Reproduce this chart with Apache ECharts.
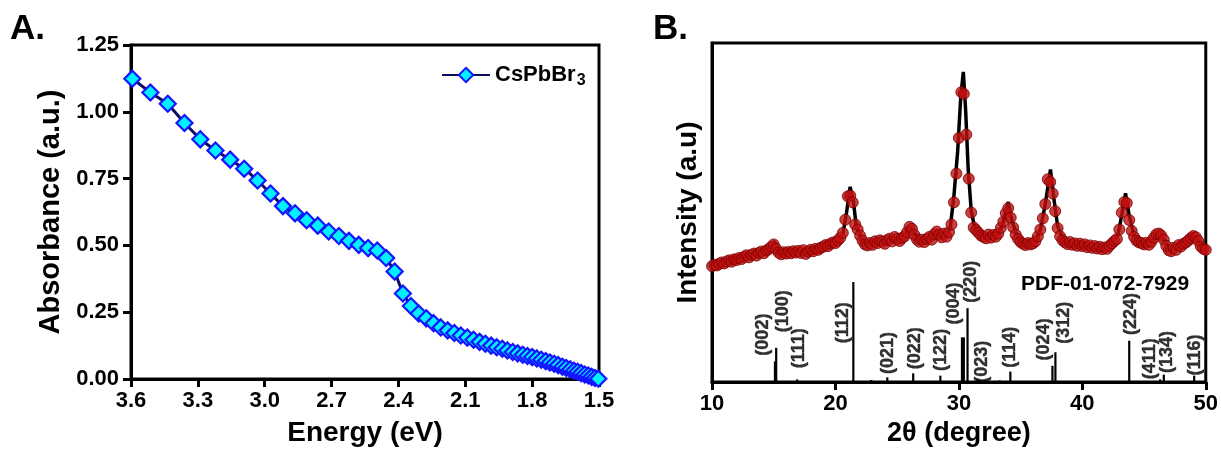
<!DOCTYPE html>
<html>
<head>
<meta charset="utf-8">
<script src="https://cdn.jsdelivr.net/npm/echarts@6/dist/echarts.min.js"></script>
<style>
  html, body { margin: 0; padding: 0; background: #fff; }
  #chart { width: 1221px; height: 452px; }
</style>
</head>
<body>
<div id="chart"></div>
<script>
// ---- Panel A: UV-vis absorbance of CsPbBr3 versus photon energy ----
const absEnergy = [
  3.594, 3.513, 3.435, 3.360, 3.289, 3.221, 3.155, 3.092, 3.032, 2.974,
  2.918, 2.864, 2.812, 2.762, 2.713, 2.667, 2.622, 2.578, 2.536, 2.495,
  2.455, 2.417, 2.380, 2.344, 2.309, 2.275, 2.242, 2.210, 2.179, 2.149,
  2.120, 2.091, 2.063, 2.036, 2.010, 1.984, 1.959, 1.934, 1.911, 1.887,
  1.865, 1.842, 1.821, 1.800, 1.779, 1.759, 1.739, 1.720, 1.701, 1.683,
  1.664, 1.647, 1.629, 1.612, 1.596, 1.580, 1.564, 1.548, 1.533, 1.518,
  1.503
];
const absValue = [
  1.124, 1.072, 1.030, 0.958, 0.897, 0.855, 0.821, 0.787, 0.743, 0.694,
  0.647, 0.620, 0.594, 0.574, 0.552, 0.535, 0.517, 0.502, 0.490, 0.481,
  0.453, 0.402, 0.320, 0.273, 0.245, 0.227, 0.209, 0.193, 0.182, 0.172,
  0.163, 0.155, 0.147, 0.139, 0.132, 0.125, 0.119, 0.113, 0.107, 0.101,
  0.096, 0.091, 0.086, 0.082, 0.077, 0.072, 0.067, 0.062, 0.057, 0.052,
  0.046, 0.041, 0.036, 0.031, 0.027, 0.022, 0.017, 0.013, 0.008, 0.004,
  0.001
];

// ---- Panel B: XRD pattern (scan 10-50 deg, 0.2 deg step) ----
const scanStart = 10;
const scanStep = 0.2;
const xrdObserved = [
  34.2, 34.6, 34.4, 34.9, 35.3, 35.0, 35.6, 35.9, 35.5, 36.2,
  36.0, 36.6, 36.3, 37.0, 37.4, 36.8, 37.5, 37.9, 37.3, 38.1,
  38.5, 38.0, 38.8, 39.2, 39.9, 40.6, 39.3, 38.2, 37.7, 38.3,
  37.9, 38.4, 38.0, 38.6, 38.2, 38.7, 38.1, 38.9, 37.8, 38.5,
  39.0, 38.6, 39.3, 39.0, 39.6, 39.9, 40.4, 40.1, 40.8, 41.2,
  41.0, 41.8, 42.6, 44.0, 47.9, 54.8, 55.0, 53.0, 46.5, 45.0,
  43.2, 41.7, 40.6, 40.3, 41.0, 40.5, 41.5, 41.0, 41.8, 41.4,
  40.8, 41.9, 42.3, 41.5, 42.8, 42.2, 41.6, 42.5, 43.0, 44.2,
  45.8, 45.2, 43.4, 42.1, 41.4, 42.0, 41.3, 42.2, 42.8, 42.0,
  43.6, 44.4, 43.5, 42.7, 43.8, 42.9, 44.2, 46.5, 53.0, 61.5,
  72.0, 85.5, 85.0, 73.0, 60.0, 50.0, 45.6, 44.8, 44.0, 43.2,
  42.8, 42.4, 43.5, 42.6, 43.4, 42.9, 43.8, 45.5, 47.3, 49.8,
  51.3, 48.5, 45.6, 43.5, 42.2, 41.3, 40.8, 40.4, 41.0, 40.6,
  40.9, 41.5, 43.0, 45.0, 48.3, 52.5, 59.8, 59.0, 55.6, 50.4,
  45.4, 43.0, 41.8, 41.2, 40.7, 41.3, 40.5, 40.9, 40.2, 40.8,
  40.1, 40.6, 39.8, 40.3, 39.6, 40.1, 39.4, 39.9, 39.2, 39.7,
  39.3, 40.2, 40.9, 41.6, 42.2, 45.0, 50.0, 53.1, 52.8, 47.8,
  44.6, 42.8, 41.7, 41.2, 41.0, 40.6, 41.1, 40.5, 41.4, 42.6,
  43.6, 43.8, 43.2, 42.0, 40.2, 38.9, 38.6, 39.6, 39.0, 40.4,
  40.0, 40.8, 41.2, 41.8, 42.5, 43.1, 42.7, 41.6, 40.0, 39.3,
  39.0
];

// Refined profile (solid black curve)
const fitTheta = [
  10, 11, 12, 13, 14, 14.8, 15.05, 15.3, 16, 17, 18, 19, 20, 20.6, 20.9,
  21.19, 21.45, 21.7, 22.2, 23, 24, 25, 25.8, 26.1, 26.5, 27.2, 28.2, 29.0,
  29.3, 29.6, 29.9, 30.15, 30.36, 30.55, 30.75, 31.0, 31.3, 32.0, 33.0, 33.5,
  34.0, 34.3, 34.8, 35.5, 36.2, 36.6, 37.0, 37.42, 37.7, 38.0, 38.5, 39.5,
  40.5, 41.5, 42.3, 42.9, 43.2, 43.5, 43.8, 44.2, 45.0, 45.7, 46.2, 46.7,
  47.1, 47.6, 48.4, 49.0, 49.5, 50
];
const fitIntensity = [
  34.4, 35.4, 36.2, 37.2, 38.3, 39.8, 41.6, 38.8, 38.1, 38.4, 38.9, 39.9, 41.0, 43.6, 50.0,
  57.6, 53.5, 45.5, 41.7, 40.8, 41.2, 42.2, 44.0, 45.6, 43.2, 41.6, 44.2, 43.2,
  45.5, 55.0, 68.0, 84.0, 91.5, 80.0, 63.0, 50.5, 45.2, 42.8, 43.0, 46.0,
  53.1, 47.5, 42.3, 40.5, 41.3, 45.0, 52.5, 62.7, 54.0, 46.0, 41.8, 40.6,
  40.2, 39.6, 40.4, 43.5, 49.5, 55.7, 49.0, 43.2, 40.9, 41.8, 43.6, 41.6,
  38.9, 39.5, 41.2, 43.1, 41.0, 39.2
];

// Reference pattern PDF-01-072-7929 (stick positions and relative heights)
const refTheta = [15.1, 15.2, 16.9, 21.45, 22.9, 24.2, 26.3, 28.5, 30.25, 30.4, 30.7, 31.5, 33.3, 34.17, 37.58, 37.82, 43.8, 46.3, 46.6, 49.06];
const refIntensity = [6.1, 10.1, 0.8, 29.5, 0.6, 1.4, 2.6, 1.9, 13.2, 13.2, 21.8, 0.8, 0.5, 3.1, 4.8, 8.8, 12.2, 0.8, 2.2, 1.9];

// Miller-index labels and their anchor points (2θ, intensity units)
const hklLabels = ['(002)', '(100)', '(111)', '(112)', '(021)', '(022)', '(122)', '(004)', '(220)', '(023)', '(114)', '(024)', '(312)', '(224)', '(411)', '(134)', '(116)'];
const hklTheta  = [14.13, 15.74, 17.08, 20.62, 24.27, 26.42, 28.57, 29.6, 30.95, 31.84, 34.17, 36.88, 38.55, 43.96, 45.52, 46.86, 49.14];
const hklHeight = [14.0, 20.9, 10.0, 17.5, 8.6, 10.0, 9.5, 23.2, 29.6, 6.0, 10.3, 12.6, 17.5, 20.1, 6.9, 8.9, 8.0];

const FONT = '"Liberation Sans", Arial, sans-serif';

const absData = absEnergy.map((e, i) => [e, absValue[i]]);
const obsData = xrdObserved.map((v, i) => [+(scanStart + i * scanStep).toFixed(2), v]);
const fitData = fitTheta.map((t, i) => [t, fitIntensity[i]]);
const refData = refTheta.map((t, i) => [t, refIntensity[i]]);
const hklData = hklLabels.map((n, i) => ({ name: n, value: [hklTheta[i], hklHeight[i]] }));

const axisLineStyle = { lineStyle: { color: '#000', width: 3 } };
const tickLabel = { color: '#000', fontFamily: FONT, fontWeight: 'bold', fontSize: 22 };
const titleStyle = { color: '#000', fontFamily: FONT, fontWeight: 'bold', fontSize: 28 };

const chart = echarts.init(document.getElementById('chart'), null, { renderer: 'canvas' });
chart.setOption({
  animation: false,
  backgroundColor: '#fff',
  grid: [
    { left: 131, top: 45, width: 468, height: 346, show: true, borderColor: '#000', borderWidth: 3 },
    { left: 712, top: 43, width: 497, height: 349, show: true, borderColor: '#000', borderWidth: 3 }
  ],
  xAxis: [
    {
      gridIndex: 0, type: 'value', min: 1.5, max: 3.6, interval: 0.3, inverse: true,
      name: 'Energy (eV)', nameLocation: 'middle', nameGap: 40, nameTextStyle: titleStyle,
      axisLine: axisLineStyle,
      axisTick: { show: true, inside: false, length: 8, lineStyle: { width: 3, color: '#000' } },
      axisLabel: Object.assign({ margin: 11, formatter: v => v.toFixed(1) }, tickLabel),
      splitLine: { show: false }
    },
    {
      gridIndex: 1, type: 'value', min: 10, max: 50, interval: 10,
      name: '2θ (degree)', nameLocation: 'middle', nameGap: 36, nameTextStyle: Object.assign({}, titleStyle, { fontSize: 27 }),
      axisLine: axisLineStyle,
      axisTick: { show: true, inside: false, length: 8, lineStyle: { width: 3, color: '#000' } },
      axisLabel: Object.assign({ margin: 11 }, tickLabel),
      splitLine: { show: false }
    }
  ],
  yAxis: [
    {
      gridIndex: 0, type: 'value', min: 0, max: 1.25, interval: 0.25,
      name: 'Absorbance (a.u.)', nameLocation: 'middle', nameGap: 66,
      nameTextStyle: Object.assign({}, titleStyle, { fontSize: 29 }),
      axisLine: axisLineStyle,
      axisTick: { show: true, inside: false, length: 8, lineStyle: { width: 3, color: '#000' } },
      axisLabel: Object.assign({ margin: 12, formatter: v => v.toFixed(2) }, tickLabel),
      splitLine: { show: false }
    },
    {
      gridIndex: 1, type: 'value', min: 0, max: 100,
      name: 'Intensity (a.u)', nameLocation: 'middle', nameGap: 10, nameTextStyle: titleStyle,
      axisLine: axisLineStyle,
      axisTick: { show: false },
      axisLabel: { show: false },
      splitLine: { show: false }
    }
  ],
  legend: {
    data: ['CsPbBr3'],
    left: 436, top: 56,
    itemWidth: 48, itemHeight: 18,
    formatter: () => '{m|CsPbBr}{s|3}',
    textStyle: {
      rich: {
        m: { fontFamily: FONT, fontWeight: 'bold', fontSize: 22, color: '#000', lineHeight: 26 },
        s: { fontFamily: FONT, fontWeight: 'bold', fontSize: 16, color: '#000', lineHeight: 26, padding: [12, 0, 0, 1] }
      }
    }
  },
  graphic: [
    { type: 'text', left: 10, top: 12, style: { text: 'A.', fontFamily: FONT, fontWeight: 'bold', fontSize: 35, fill: '#000' } },
    { type: 'text', left: 653, top: 12, style: { text: 'B.', fontFamily: FONT, fontWeight: 'bold', fontSize: 35, fill: '#000' } },
    { type: 'text', left: 1021, top: 274, style: { text: 'PDF-01-072-7929', fontFamily: FONT, fontWeight: 'bold', fontSize: 21, fill: '#000' } }
  ],
  series: [
    {
      name: 'CsPbBr3', type: 'line', xAxisIndex: 0, yAxisIndex: 0,
      data: absData,
      symbol: 'diamond', symbolSize: 16, showAllSymbol: true,
      lineStyle: { color: '#0c0c60', width: 3 },
      itemStyle: { color: '#00f0ff', borderColor: '#1414ff', borderWidth: 2.2 }
    },
    {
      type: 'custom', xAxisIndex: 1, yAxisIndex: 1, data: refData, z: 3,
      renderItem: (params, api) => {
        const p0 = api.coord([api.value(0), 0]);
        const p1 = api.coord([api.value(0), api.value(1)]);
        return { type: 'line', shape: { x1: p0[0], y1: p0[1], x2: p1[0], y2: p1[1] }, style: { stroke: '#000', lineWidth: 2.2 } };
      }
    },
    {
      type: 'line', xAxisIndex: 1, yAxisIndex: 1, data: fitData, z: 2,
      symbol: 'none', lineStyle: { color: '#000', width: 3.5 }
    },
    {
      type: 'scatter', xAxisIndex: 1, yAxisIndex: 1, data: obsData, z: 4,
      symbol: 'circle', symbolSize: 11,
      itemStyle: { color: '#c01010', borderColor: '#780000', borderWidth: 1 }
    },
    {
      type: 'scatter', xAxisIndex: 1, yAxisIndex: 1, data: hklData, z: 5,
      symbolSize: 1, itemStyle: { color: 'rgba(0,0,0,0)' },
      label: {
        show: true, position: 'inside', rotate: 90, formatter: p => p.name,
        fontFamily: FONT, fontWeight: 700, fontSize: 18, color: '#000',
        textBorderColor: '#000', textBorderWidth: 0.4
      }
    }
  ]
});
</script>
</body>
</html>
